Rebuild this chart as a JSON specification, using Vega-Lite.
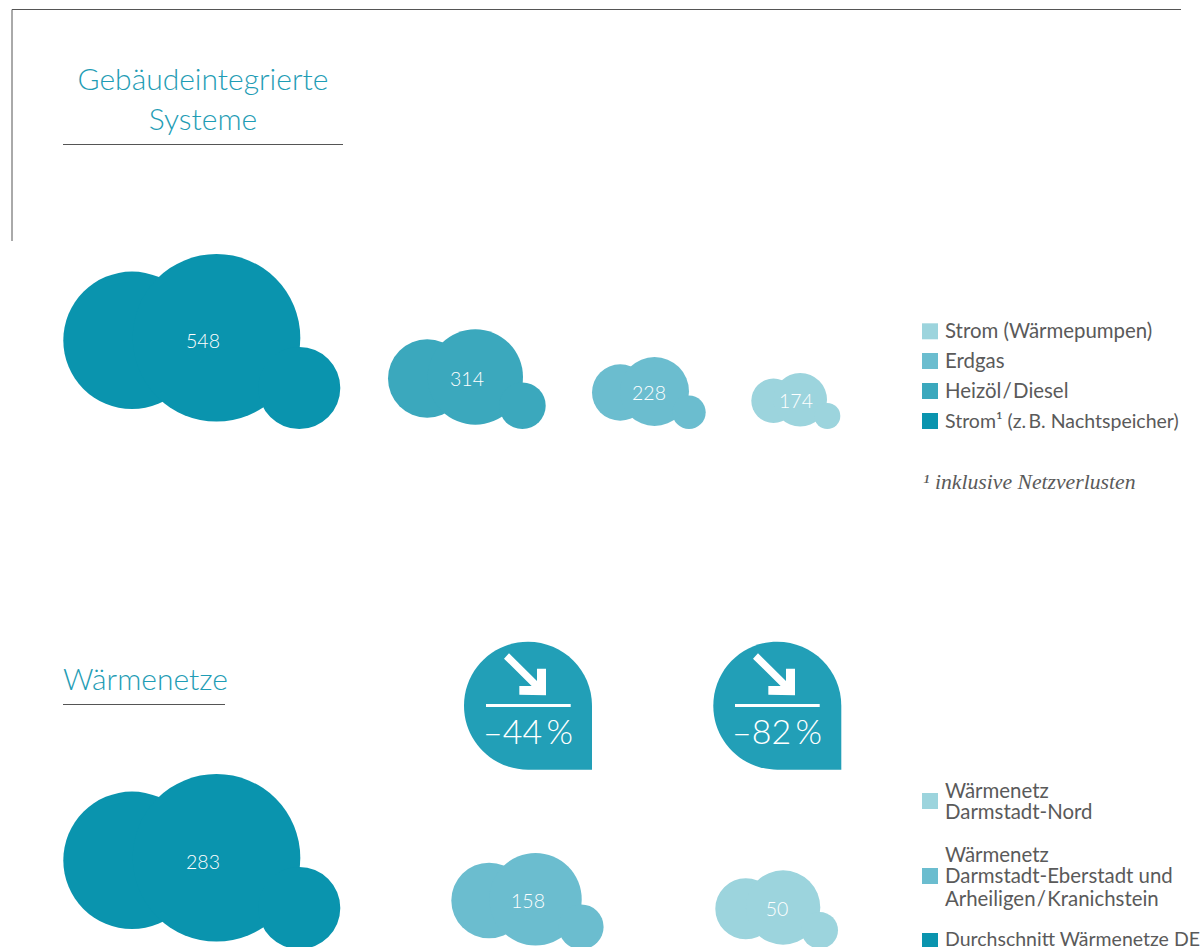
{
"$schema":"https://vega.github.io/schema/vega-lite/v6.json",
"width":1204,"height":947,"padding":0,"autosize":{"type":"none"},
"background":"#ffffff",
"config":{"view":{"stroke":null}},
"datasets":{
"lobes":[
{"slot":1,"carrier":"Strom¹ (z. B. Nachtspeicher)","value":548},{"slot":2,"carrier":"Strom¹ (z. B. Nachtspeicher)","value":548},{"slot":3,"carrier":"Strom¹ (z. B. Nachtspeicher)","value":548},
{"slot":4,"carrier":"Heizöl / Diesel","value":314},{"slot":5,"carrier":"Heizöl / Diesel","value":314},{"slot":6,"carrier":"Heizöl / Diesel","value":314},
{"slot":7,"carrier":"Erdgas","value":228},{"slot":8,"carrier":"Erdgas","value":228},{"slot":9,"carrier":"Erdgas","value":228},
{"slot":10,"carrier":"Strom (Wärmepumpen)","value":174},{"slot":11,"carrier":"Strom (Wärmepumpen)","value":174},{"slot":12,"carrier":"Strom (Wärmepumpen)","value":174},
{"slot":13,"carrier":"Durchschnitt Wärmenetze DE","value":283},{"slot":14,"carrier":"Durchschnitt Wärmenetze DE","value":283},{"slot":15,"carrier":"Durchschnitt Wärmenetze DE","value":283},
{"slot":16,"carrier":"Wärmenetz Darmstadt-Eberstadt","value":158},{"slot":17,"carrier":"Wärmenetz Darmstadt-Eberstadt","value":158},{"slot":18,"carrier":"Wärmenetz Darmstadt-Eberstadt","value":158},
{"slot":19,"carrier":"Wärmenetz Darmstadt-Nord","value":50},{"slot":20,"carrier":"Wärmenetz Darmstadt-Nord","value":50},{"slot":21,"carrier":"Wärmenetz Darmstadt-Nord","value":50}
],
"values":[
{"slot":22,"value":548},{"slot":23,"value":314},{"slot":24,"value":228},{"slot":25,"value":174},{"slot":26,"value":283},{"slot":27,"value":158},{"slot":28,"value":50}
],
"titlesCentered":[{"slot":29,"text":"Gebäudeintegrierte"},{"slot":30,"text":"Systeme"}],
"titlesLeft":[{"slot":31,"text":"Wärmenetze"}],
"legendText":[
{"slot":32,"text":"Strom (Wärmepumpen)"},{"slot":33,"text":"Erdgas"},{"slot":34,"text":"Heizöl\u200a/\u200aDiesel"},
{"slot":37,"text":"Wärmenetz"},{"slot":38,"text":"Darmstadt-Nord"},{"slot":39,"text":"Wärmenetz"},{"slot":40,"text":"Darmstadt-Eberstadt und"},{"slot":41,"text":"Arheiligen\u200a/\u200aKranichstein"}
],
"legendTight":[{"slot":35,"text":"Strom¹ (z.\u2009B. Nachtspeicher)"},{"slot":42,"text":"Durchschnitt Wärmenetze DE"}],
"note":[{"slot":36,"text":"¹ inklusive Netzverlusten"}],
"swatches":[
{"slot":43,"carrier":"Strom (Wärmepumpen)"},{"slot":44,"carrier":"Erdgas"},{"slot":45,"carrier":"Heizöl / Diesel"},{"slot":46,"carrier":"Strom¹ (z. B. Nachtspeicher)"},
{"slot":47,"carrier":"Wärmenetz Darmstadt-Nord"},{"slot":48,"carrier":"Wärmenetz Darmstadt-Eberstadt"},{"slot":49,"carrier":"Durchschnitt Wärmenetze DE"}
],
"badges":[{"slot":50},{"slot":51}],
"arrows":[{"slot":52},{"slot":53}],
"pct":[{"slot":54,"text":"–44\u2009%"},{"slot":55,"text":"–82\u2009%"}],
"greyRules":[{"slot":56,"slot2":57,"end":57},{"slot":58,"slot2":59,"end":59},{"slot":60,"slot2":61,"end":61},{"slot":62,"slot2":63,"end":63}],
"whiteRules":[{"slot":64,"slot2":65,"end":65},{"slot":66,"slot2":67,"end":67}]
},
"encoding":{
"x":{"field":"slot","type":"quantitative","axis":null,"scale":{"domain":[1,2,3,4,5,6,7,8,9,10,11,12,13,14,15,16,17,18,19,20,21,22,23,24,25,26,27,28,29,30,31,32,33,34,35,36,37,38,39,40,41,42,43,44,45,46,47,48,49,50,51,52,53,54,55,56,57,58,59,60,61,62,63,64,65,66,67],
"range":[132,216.5,299.3,427.2,475.3,522.4,620.2,654.5,689,773.5,800.2,827.3,132,216.5,299.3,489.1,535.5,581.1,745.8,783.1,819.7,203,467,649,796,203,528,777,203,203,63,945,945,945,945,923,945,945,945,945,945,945,930,930,930,930,930,930,930,528,777.3,525,774,528,777,12,1181,12,12,63,343,63,225,486,570.7,735,819.7]}},
"y":{"field":"slot","type":"quantitative","axis":null,"scale":{"domain":[1,2,3,4,5,6,7,8,9,10,11,12,13,14,15,16,17,18,19,20,21,22,23,24,25,26,27,28,29,30,31,32,33,34,35,36,37,38,39,40,41,42,43,44,45,46,47,48,49,50,51,52,53,54,55,56,57,58,59,60,61,62,63,64,65,66,67],
"range":[340.3,337.8,388,378.5,377,405.7,392.5,391.5,412.3,400.8,399.8,416,860.3,857.8,908,900.5,899.2,926.9,908.8,907.5,930.3,341.8,379.8,393.8,401.8,862.8,901.8,909.8,81,121,681,332,362,392,422,481.5,792,813,856,877,900,940,331.3,361,391,421,801,876,941,705.7,705.7,674.3,674.3,733.5,733.5,9.5,9.5,9.5,241,144.5,144.5,704.5,704.5,705.5,705.5,705.5,705.5]}}
},
"layer":[
{"data":{"name":"greyRules"},"mark":{"type":"rule","color":"#555555","strokeWidth":1},
 "encoding":{"x2":{"field":"slot2"},"y2":{"field":"end"}}},
{"data":{"name":"lobes"},"mark":{"type":"circle","opacity":1,"stroke":null},
 "encoding":{"size":{"field":"slot","type":"quantitative","legend":null,"scale":{"domain":[1,2,3,4,5,6,7,8,9,10,11,12,13,14,15,16,17,18,19,20,21],"range":[18879,28090,6724,6147,9101,2172,3181,4761,1116,1971,2873,676,18879,28090,6724,5715,8538,2025,3721,5535,1340]}},
 "color":{"field":"carrier","type":"nominal","legend":null,"scale":{"domain":["Strom (Wärmepumpen)","Erdgas","Heizöl / Diesel","Strom¹ (z. B. Nachtspeicher)","Wärmenetz Darmstadt-Nord","Wärmenetz Darmstadt-Eberstadt","Durchschnitt Wärmenetze DE"],"range":["#9CD4DD","#6BBDCF","#3BA8BD","#0A94AE","#9CD4DD","#6BBDCF","#0A94AE"]}}}},
{"data":{"name":"values"},"mark":{"type":"text","color":"#ffffff","font":"Lato","fontSize":19.5,"fontWeight":300,"align":"center","baseline":"middle"},
 "encoding":{"text":{"field":"value","type":"quantitative"}}},
{"data":{"name":"titlesCentered"},"mark":{"type":"text","color":"#1F9DB5","font":"Lato","fontSize":30,"fontWeight":300,"align":"center","baseline":"middle"},
 "encoding":{"text":{"field":"text"}}},
{"data":{"name":"titlesLeft"},"mark":{"type":"text","color":"#1F9DB5","font":"Lato","fontSize":30,"fontWeight":300,"align":"left","baseline":"middle"},
 "encoding":{"text":{"field":"text"}}},
{"data":{"name":"legendText"},"mark":{"type":"text","color":"#5A5A5A","font":"Lato","fontSize":20.4,"align":"left","baseline":"middle"},
 "encoding":{"text":{"field":"text"}}},
{"data":{"name":"legendTight"},"mark":{"type":"text","color":"#5A5A5A","font":"Lato","fontSize":19.5,"align":"left","baseline":"middle"},
 "encoding":{"text":{"field":"text"}}},
{"data":{"name":"note"},"mark":{"type":"text","color":"#5A5A5A","font":"Liberation Serif","fontStyle":"italic","fontSize":21.7,"align":"left","baseline":"middle"},
 "encoding":{"text":{"field":"text"}}},
{"data":{"name":"swatches"},"mark":{"type":"square","size":256,"opacity":1,"stroke":null},
 "encoding":{"color":{"field":"carrier","type":"nominal","legend":null}}},
{"data":{"name":"badges"},"mark":{"type":"point","filled":true,"opacity":1,"color":"#229FB7","stroke":null,"size":16384,"shape":"M-1,0 A1,1 0 0 1 1,0 L1,1 L0,1 A1,1 0 0 1 -1,0 Z"}},
{"data":{"name":"arrows"},"mark":{"type":"point","filled":true,"opacity":1,"color":"#ffffff","stroke":null,"size":1764,"shape":"M-0.762,-1 L0.571,0.317 L0.571,-0.27 L1,-0.27 L1,1 L-0.27,0.97 L-0.27,0.556 L0.317,0.556 L-1,-0.746 Z"}},
{"data":{"name":"whiteRules"},"mark":{"type":"rule","color":"#ffffff","strokeWidth":3},
 "encoding":{"x2":{"field":"slot2"},"y2":{"field":"end"}}},
{"data":{"name":"pct"},"mark":{"type":"text","color":"#ffffff","font":"Lato","fontSize":34,"fontWeight":300,"align":"center","baseline":"middle"},
 "encoding":{"text":{"field":"text"}}}
]
}
